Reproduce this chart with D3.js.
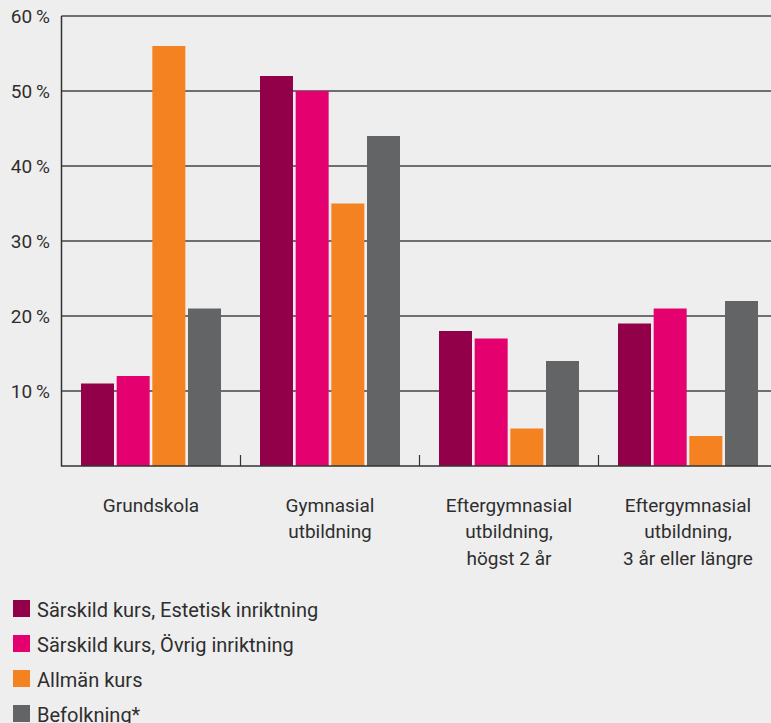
<!DOCTYPE html>
<html>
<head>
<meta charset="utf-8">
<script src="https://cdn.jsdelivr.net/npm/d3@7"></script>
<style>
  body { margin: 0; background: #eeeeee; }
  svg { display: block; font-family: Roboto, "Noto Sans", sans-serif; }
</style>
</head>
<body>
<svg id="chart"></svg>
<script>
/* Data */
const categories = [
  ["Grundskola"],
  ["Gymnasial", "utbildning"],
  ["Eftergymnasial", "utbildning,", "högst 2 år"],
  ["Eftergymnasial", "utbildning,", "3 år eller längre"]
];
const seriesNames = [
  "Särskild kurs, Estetisk inriktning",
  "Särskild kurs, Övrig inriktning",
  "Allmän kurs",
  "Befolkning*"
];
const estetisk = [11, 52, 18, 19];
const ovrig = [12, 50, 17, 21];
const allman = [56, 35, 5, 4];
const befolkning = [21, 44, 14, 22];
const yTicks = [10, 20, 30, 40, 50, 60];
const colors = ["#93004a", "#e5006f", "#f58220", "#636466"];

const values = [estetisk, ovrig, allman, befolkning];

const width = 771, height = 723;
const margin = { top: 16, bottom: 257, left: 61.5 };
const svg = d3.select("#chart").attr("width", width).attr("height", height);

const x = d3.scaleBand()
  .domain(d3.range(categories.length))
  .range([margin.left, margin.left + 4 * 179]);

const y = d3.scaleLinear()
  .domain([0, 60])
  .range([height - margin.bottom, margin.top]);

// gridlines
svg.append("g")
  .selectAll("line")
  .data(yTicks)
  .enter().append("line")
    .attr("x1", margin.left)
    .attr("x2", width)
    .attr("y1", d => y(d))
    .attr("y2", d => y(d))
    .attr("stroke", "#444")
    .attr("stroke-width", 1.4);

// y labels
svg.append("g")
  .selectAll("text")
  .data(yTicks)
  .enter().append("text")
    .attr("x", 50)
    .attr("y", d => y(d) + 7)
    .attr("text-anchor", "end")
    .attr("fill", "#2e2e2e")
    .style("font-size", "19px")
    .text(d => d + "\u2009%");

// bars
const inner = d3.scaleBand()
  .domain(d3.range(seriesNames.length))
  .range([0, 140])
  .paddingInner(0.075);

const groups = svg.append("g")
  .selectAll("g")
  .data(categories)
  .enter().append("g")
    .attr("transform", (d, i) => `translate(${x(i) + x.bandwidth() / 2 - 70},0)`);

groups.selectAll("rect")
  .data((d, i) => values.map((s, j) => ({ s: j, v: s[i] })))
  .enter().append("rect")
    .attr("x", d => inner(d.s))
    .attr("width", inner.bandwidth())
    .attr("y", d => y(d.v))
    .attr("height", d => y(0) - y(d.v))
    .attr("fill", d => colors[d.s]);

// axes
svg.append("line")
  .attr("x1", margin.left).attr("x2", margin.left)
  .attr("y1", y(60)).attr("y2", y(0) + 0.5)
  .attr("stroke", "#333").attr("stroke-width", 1.5);
svg.append("line")
  .attr("x1", margin.left).attr("x2", width)
  .attr("y1", y(0)).attr("y2", y(0))
  .attr("stroke", "#333").attr("stroke-width", 1.5);

// category ticks
svg.append("g")
  .selectAll("line")
  .data(d3.range(1, categories.length))
  .enter().append("line")
    .attr("x1", d => x(d)).attr("x2", d => x(d))
    .attr("y1", y(0) - 11).attr("y2", y(0))
    .attr("stroke", "#333").attr("stroke-width", 1.2);

// category labels
const labels = svg.append("g")
  .selectAll("text")
  .data(categories)
  .enter().append("text")
    .attr("text-anchor", "middle")
    .attr("fill", "#2e2e2e")
    .style("font-size", "19px")
    .attr("x", (d, i) => x(i) + x.bandwidth() / 2)
    .attr("y", 511.5);
labels.selectAll("tspan")
  .data(d => d)
  .enter().append("tspan")
    .attr("x", function () { return d3.select(this.parentNode).attr("x"); })
    .attr("dy", (d, i) => i === 0 ? 0 : 26.7)
    .text(d => d);

// legend
const legend = svg.append("g")
  .selectAll("g")
  .data(seriesNames)
  .enter().append("g")
    .attr("transform", (d, i) => `translate(13,${600 + i * 35})`);
legend.append("rect")
  .attr("width", 17).attr("height", 17)
  .attr("fill", (d, i) => colors[i]);
legend.append("text")
  .attr("x", 24).attr("y", 17)
  .attr("fill", "#2e2e2e")
  .style("font-size", "20px")
  .text(d => d);
</script>
</body>
</html>
